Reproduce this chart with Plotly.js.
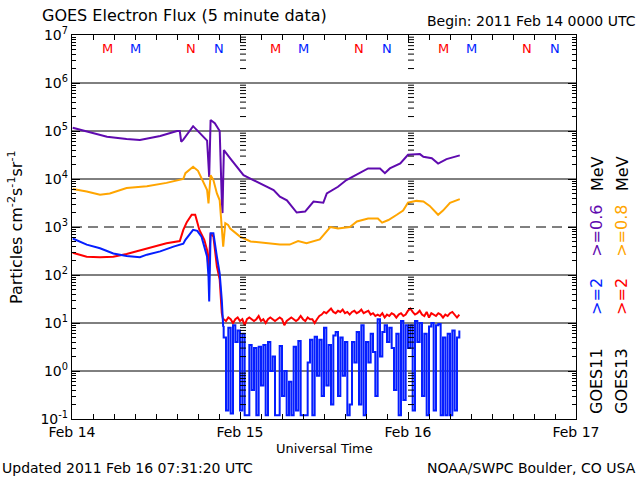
<!DOCTYPE html>
<html>
<head>
<meta charset="utf-8">
<script src="https://cdn.plot.ly/plotly-3.0.1.min.js"></script>
<style>html,body{margin:0;padding:0;background:#fff}#chart{width:640px;height:480px}</style>
</head>
<body>
<div id="chart"></div>
<script>
// ---- data (hours after 2011 Feb 14 00:00 UTC) ----
const purpleHours = [0.1,2.1,5.0,7.8,9.7,12.6,15.0,15.4,15.6,15.9,17.3,18.3,19.0,19.3,19.6,19.8,20.4,20.9,21.1,21.4,21.5,21.6,21.7,22.6,24.5,25.9,28.8,29.7,30.7,32.1,33.3,34.5,35.9,36.4,38.0,39.2,41.1,42.3,44.0,44.7,45.4,46.9,48.0,49.7,50.2,51.4,52.3,53.5,55.4];
const purpleFlux = [117000,98000,76000,68000,65000,79000,100000,100000,60000,66000,126000,89000,71000,63000,11000,170000,145000,112000,100000,3600,1950,10000,40000,27000,12000,9500,5900,4300,3600,2000,2100,3400,3200,5000,6900,9500,13500,16600,16600,13200,16600,21000,32000,33000,29000,27000,21000,26000,31000];

const orangeHours = [0.1,2.1,4.0,5.4,7.8,10.7,13.5,15.0,15.9,16.2,17.3,18.0,18.9,19.3,19.5,19.8,20.2,20.7,21.1,21.4,21.6,21.9,22.3,22.6,24.0,25.5,27.7,29.7,31.1,32.3,33.5,35.4,36.9,38.0,39.7,40.7,42.3,43.7,44.3,45.2,46.4,47.3,48.0,49.2,50.2,51.1,52.3,53.0,54.0,55.4];
const orangeFlux = [6200,5500,4700,5000,6500,7100,8300,9500,10000,13200,18000,14800,7900,5900,3100,12000,9500,5000,3600,1000,390,1200,1100,930,630,500,460,430,430,510,460,550,1000,930,1000,1300,1500,1500,1230,1400,1800,2200,3200,3500,3400,2750,1800,2200,3200,3800];

const redHours = [0.1,2.1,4.0,5.9,7.8,10.7,13.5,15.4,15.9,16.4,17.1,17.6,18.2,18.9,19.3,19.5,19.8,20.2,20.7,21.1,21.3,21.4,21.6];
const redFlux = [290,240,235,240,275,360,460,510,870,1260,1800,1800,870,540,330,126,740,630,150,80,35,16,11.5];

const blueHours = [0.1,2.1,4.0,5.9,7.8,9.7,10.7,12.6,14.5,15.9,16.2,16.9,17.3,17.9,18.5,18.9,19.3,19.5,19.6,19.8,20.2,20.7,21.1,21.4,21.5,21.6];
const blueFlux = [575,430,360,280,250,235,265,310,390,450,540,740,870,830,630,390,240,91,28,740,740,240,107,30,13.5,8.3];

// 20-minute samples from Feb 14 21:40 UTC onward
const noiseStartHour = 21 + 40/60;
const noiseStepHours = 1/3;
const redNoise = [12,11,13,12,10,12,13,11,12,9,12,
  13,12,11,12,14,11,12,10,12,13,
  12,11,12,13,12,9,11,12,13,12,
  11,12,14,12,11,13,12,12,10,12,
  14,15,17,16,18,20,17,16,18,17,
  19,16,17,15,17,18,16,17,19,16,
  17,18,15,16,14,15,14,16,13,15,
  14,16,15,13,15,16,14,15,18,20,
  17,15,16,18,15,14,17,13,16,15,
  14,16,15,13,15,14,16,17,15,13,15];
const blueNoise = [5,0.15,8,0.13,9,4,7,0.15,6,0.12,
  0.12,3.5,0.4,3.0,0.12,3.2,0.5,3.5,0.12,4.0,
  1.0,2.0,0.12,0.12,3.3,0.3,1.0,0.12,0.6,0.12,
  3.2,0.15,4.2,0.12,0.12,0.12,1.5,4.5,0.12,5.2,
  0.8,4.5,0.3,8.0,0.5,3.5,0.2,5.5,6.5,0.3,
  5.0,0.8,4.0,0.12,0.2,4.0,1.5,6.5,0.2,9.0,
  0.12,4.0,1.5,6.0,2.5,0.3,12,2.0,6.5,9.0,
  4.0,8.0,3.0,0.4,6.0,0.12,11,0.25,9,3,
  9,0.15,11,4,10,0.3,6,0.12,8.5,10,
  0.15,9,9.5,0.12,5,0.12,6,0.12,7,0.15,
  5,7];

const dayTicks = ['2011-02-14','2011-02-15','2011-02-16','2011-02-17'];
const dayLabels = ['Feb 14','Feb 15','Feb 16','Feb 17'];
const yTickVals = [0.1,1,10,100,1000,1e4,1e5,1e6,1e7];
const yTickText = ['10<sup>-1</sup>','10<sup>0</sup>','10<sup>1</sup>','10<sup>2</sup>','10<sup>3</sup>','10<sup>4</sup>','10<sup>5</sup>','10<sup>6</sup>','10<sup>7</sup>'];

const mnHours = [5,9,17,21,29,33,41,45,53,57,65,69];
const mnLabels = ['M','M','N','N','M','M','N','N','M','M','N','N'];
const mnColors = ['#ff0000','#0022ff','#ff0000','#0022ff','#ff0000','#0022ff','#ff0000','#0022ff','#ff0000','#0022ff','#ff0000','#0022ff'];

// ---- helpers ----
const T0 = Date.UTC(2011,1,14);
function hd(h){ return new Date(T0 + Math.round(h*3600000)).toISOString().replace('T',' ').slice(0,19); }
const noiseHours = redNoise.map((_,i)=> noiseStartHour + i*noiseStepHours);

const FONT = 'DejaVu Sans, Liberation Sans, sans-serif';
const PURPLE = 'rgb(95,10,175)', ORANGE = 'rgb(255,165,0)', RED = 'rgb(255,0,0)', BLUE = 'rgb(5,30,255)';

const lastB = blueHours.length - 1;
const traces = [
  {x: purpleHours.map(hd), y: purpleFlux, mode:'lines', line:{color:PURPLE, width:2}},
  {x: orangeHours.map(hd), y: orangeFlux, mode:'lines', line:{color:ORANGE, width:2}},
  {x: redHours.concat(noiseHours).map(hd), y: redFlux.concat(redNoise), mode:'lines', line:{color:RED, width:2}},
  {x: blueHours.map(hd), y: blueFlux, mode:'lines', line:{color:BLUE, width:2}},
  {x: [blueHours[lastB]].concat(noiseHours).map(hd), y: [blueFlux[lastB]].concat(blueNoise), mode:'lines', line:{color:BLUE, width:2, shape:'hv'}}
];

// minor log ticks
const minorVals = [];
for (let k=-1;k<7;k++) for (let d=2; d<=9; d++) minorVals.push(d*Math.pow(10,k));

const shapes = [];
for (let k=0;k<=6;k++){
  const v = Math.pow(10,k);
  shapes.push({type:'line', xref:'paper', x0:0, x1:1, yref:'y', y0:v, y1:v,
    line:{color:'black', width:1, dash: k===3 ? '10px,6px' : 'solid'}, layer:'below'});
}
['2011-02-15','2011-02-16'].forEach(day=>{
  minorVals.forEach(v=>{
    shapes.push({type:'line', xref:'x', xsizemode:'pixel', xanchor:day, x0:0, x1:6,
      yref:'y', y0:v, y1:v, line:{color:'black', width:1}});
  });
});

const annotations = [];
mnHours.forEach((h,i)=>{
  annotations.push({x: hd(h), xref:'x', y:0.966, yref:'paper', text: mnLabels[i], showarrow:false,
    font:{family:FONT, size:13, color:mnColors[i]}, xanchor:'center', yanchor:'middle'});
});
function ann(text, x, y, opts){ return Object.assign({text, x, y, xref:'paper', yref:'paper', showarrow:false,
  font:{family:FONT, size:14, color:'black'}, xanchor:'left', yanchor:'middle'}, opts||{}); }
annotations.push(ann('GOES Electron Flux (5 minute data)', -0.0635, 1.050, {font:{family:FONT,size:16,color:'black'}}));
annotations.push(ann('Begin: 2011 Feb 14 0000 UTC', 1.123, 1.036, {xanchor:'right'}));
annotations.push(ann('Universal Time', 0.5, -0.078, {xanchor:'center', font:{family:FONT,size:13,color:'black'}}));
annotations.push(ann('Updated 2011 Feb 16 07:31:20 UTC', -0.143, -0.128));
annotations.push(ann('NOAA/SWPC Boulder, CO USA', 1.123, -0.128, {xanchor:'right'}));
annotations.push(ann('Particles cm<sup>-2</sup>s<sup>-1</sup>sr<sup>-1</sup>', -0.113, 0.5, {xanchor:'center', textangle:-90, font:{family:FONT,size:16,color:'black'}}));
// right-side legend columns
const rcol = [
  {x:1.0417, items:[['GOES11','black',0.099],['&gt;=2',BLUE,0.318],['&gt;=0.6',PURPLE,0.490],['MeV','black',0.638]]},
  {x:1.0913, items:[['GOES13','black',0.099],['&gt;=2',RED,0.318],['&gt;=0.8',ORANGE,0.490],['MeV','black',0.638]]}
];
rcol.forEach(c=>c.items.forEach(it=>{
  annotations.push(ann(it[0], c.x, it[2], {xanchor:'center', textangle:-90, font:{family:FONT,size:16,color:it[1]}}));
}));

const layout = {
  width:640, height:480,
  margin:{l:72, r:64, t:35, b:61, pad:0},
  paper_bgcolor:'white', plot_bgcolor:'white',
  showlegend:false,
  xaxis:{type:'date', range:['2011-02-14','2011-02-17'], tickmode:'array', tickvals:dayTicks, ticktext:dayLabels,
    ticks:'inside', ticklen:7, tickcolor:'black', tickwidth:1, showline:true, linecolor:'black', linewidth:1.2, mirror:'ticks',
    showgrid:false, zeroline:false, tickfont:{family:FONT, size:14, color:'black'},
    minor:{tickmode:'linear', tick0:'2011-02-14', dtick:3*3600000, ticks:'inside', ticklen:5, tickcolor:'black', showgrid:false}},
  yaxis:{type:'log', range:[-1,7], tickmode:'array', tickvals:yTickVals, ticktext:yTickText,
    ticks:'inside', ticklen:8, tickcolor:'black', showline:true, linecolor:'black', linewidth:1.2, mirror:'ticks',
    showgrid:false, zeroline:false, tickfont:{family:FONT, size:14, color:'black'},
    minor:{tickmode:'array', tickvals:minorVals, ticks:'inside', ticklen:4, tickcolor:'black', showgrid:false}},
  shapes, annotations
};
Plotly.newPlot('chart', traces, layout, {staticPlot:true, displayModeBar:false});
</script>
</body>
</html>
